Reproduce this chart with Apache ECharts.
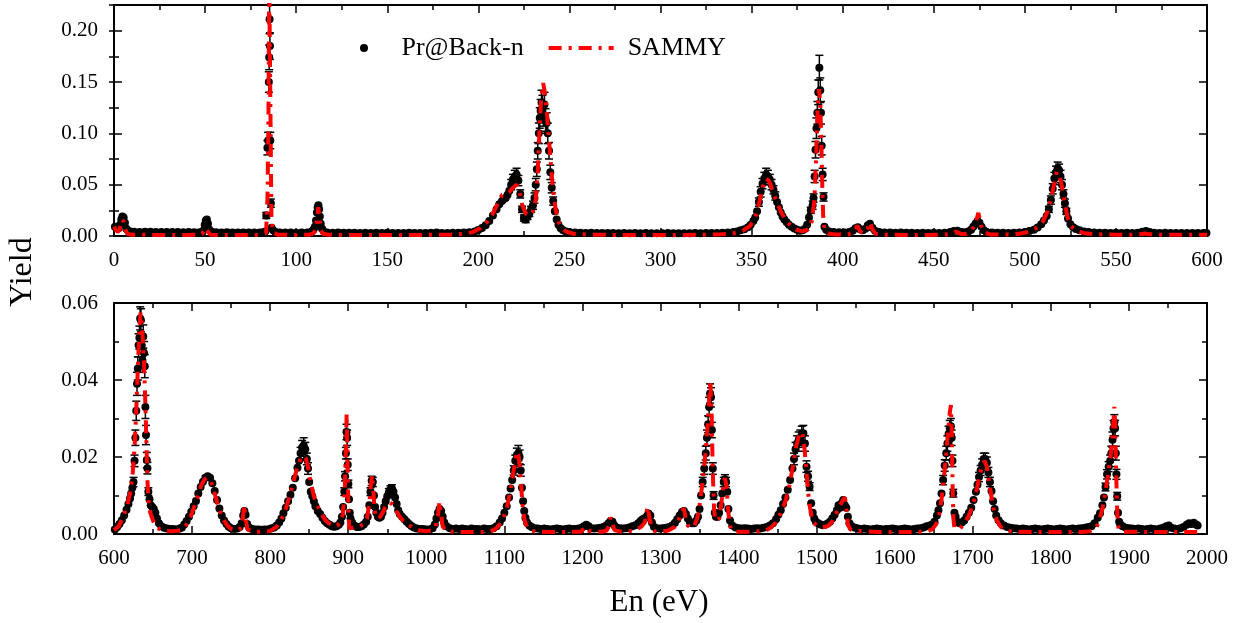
<!DOCTYPE html>
<html>
<head>
<meta charset="utf-8">
<script src="https://cdn.jsdelivr.net/npm/echarts@6/dist/echarts.min.js"></script>
<style>html,body{margin:0;padding:0;background:#fff}#chart{width:1241px;height:623px}</style>
</head>
<body>
<div id="chart"></div>
<script>
// ---- names and labels ----
const expName = 'Pr@Back-n';
const fitName = 'SAMMY';
const xTitle = 'En (eV)';
const yTitle = 'Yield';

// ---- top panel (0-600 eV): experimental points [En, yield, error] ----
const topExp = [
[0.5,0.009],[1.5,0.008],[2.5,0.0075],[3.3,0.011],[4,0.016],[4.6,0.019],[5.3,0.018],[6,0.013],[6.8,0.007],[7.8,0.005],[9,0.0045],
[11,0.0042],[14,0.004],[17,0.0042],[20,0.0041],[23,0.004],[26,0.0039],[29,0.004],[32,0.0038],[35,0.0039],[38,0.0037],[41,0.0038],[44,0.0036],[47,0.0037],
[49,0.005],[49.8,0.011],[50.4,0.015],[51,0.016],[51.6,0.012],[52.4,0.006],[53.5,0.0042],
[56,0.0036],[59,0.0035],[62,0.0036],[65,0.0034],[68,0.0035],[71,0.0034],[74,0.0035],[77,0.0033],[80,0.0034],[82,0.0036],[83,0.0045],
[83.6,0.02,0.003],[84.2,0.086,0.007],[84.6,0.093,0.008],[85,0.15,0.01],[85.2,0.174,0.012],[85.4,0.211,0.014],[85.6,0.185,0.013],[85.8,0.093,0.008],[86.1,0.032,0.004],[86.5,0.008],[87.3,0.0055],[88.5,0.0042],
[91,0.0034],[94,0.0033],[97,0.0034],[100,0.0032],[103,0.0033],[106,0.0034],[108.5,0.0045],[109.5,0.006],[110.3,0.009],[110.9,0.015],[111.4,0.023],[111.8,0.028],[112.2,0.03],[112.6,0.026],[113,0.019],[113.5,0.012],[114.2,0.007],[115.2,0.0045],
[117,0.0034],[120,0.0032],[123,0.0033],[126,0.0031],[129,0.0032],[132,0.0031],[135,0.003],[138,0.0031],[141,0.003],[144,0.0031],[147,0.003],[150,0.0031],[153,0.003],[156,0.0029],[159,0.003],[162,0.0031],[165,0.003],[168,0.0029],[171,0.003],[174,0.0031],[177,0.0033],[180,0.003],[183,0.003],[186,0.0031],[189,0.0032],[192,0.0034],
[195,0.0037],[198,0.0045],[200,0.0058],[202,0.0078],[204,0.0105],[206,0.0145],[208,0.02],[210,0.026],[211.5,0.031],[213,0.034],[214,0.036],[215,0.037],[216,0.04],[217,0.044],[218,0.05,0.005],[219,0.055,0.005],[220,0.058,0.006],[221,0.06,0.006],[222,0.054,0.005],[223,0.041,0.004],[224,0.026,0.003],[225,0.0175,0.003],[226,0.016,0.003],[227,0.019,0.003],[228,0.022,0.003],[229,0.026,0.003],[230,0.03,0.004],[230.8,0.037,0.005],[231.5,0.05,0.006],[232.1,0.065,0.007],[232.6,0.083,0.008],[233.2,0.1,0.01],[233.7,0.115,0.01],[234.2,0.122,0.011],[234.7,0.13,0.012],[235.2,0.125,0.012],[235.7,0.118,0.011],[236.3,0.128,0.012],[236.9,0.113,0.011],[237.5,0.11,0.01],[238.1,0.1,0.01],[238.8,0.083,0.008],[239.5,0.062,0.007],[240.3,0.047,0.005],[241.1,0.034,0.004],[242,0.024],[243,0.016],[244,0.011],[245.2,0.0075],[246.5,0.0055],[248,0.0045],[250,0.004],
[253,0.0034],[256,0.0032],[259,0.003],[262,0.0031],[265,0.003],[268,0.0029],[271,0.003],[274,0.0029],[277,0.0028],[280,0.0029],[283,0.0028],[286,0.0029],[289,0.0028],[292,0.0029],[295,0.0028],[298,0.0027],[301,0.0028],[304,0.0029],[307,0.0028],[310,0.0027],[313,0.0028],[316,0.0028],[319,0.0029],[322,0.0028],[325,0.003],[328,0.0029],[331,0.003],[334,0.0032],[337,0.0034],[340,0.0038],
[342,0.0045],[344,0.0055],[346,0.0065],[348,0.0085],[349.5,0.011],[351,0.0145],[352,0.018],[353,0.024],[354,0.033,0.004],[355,0.043,0.005],[356,0.051,0.005],[357,0.056,0.006],[358,0.06,0.006],[359,0.058,0.006],[360,0.055,0.005],[361,0.05,0.005],[362,0.045,0.004],[363,0.039,0.004],[364,0.033],[365,0.028],[366,0.023],[367,0.019],[368,0.016],[369.3,0.0135],[370.5,0.011],[372,0.009],[373.5,0.0072],[375,0.006],[376.5,0.0052],[378,0.0055],[379.3,0.007],[380.5,0.011],[381.5,0.018],[382.5,0.025,0.003],
[383.5,0.03,0.004],[384,0.037,0.004],[384.6,0.058,0.006],[385.1,0.084,0.008],[385.6,0.105,0.01],[386.1,0.12,0.011],[386.6,0.14,0.012],[387.2,0.164,0.012],[387.7,0.142,0.012],[388.1,0.12,0.011],[388.5,0.088,0.009],[389,0.06,0.006],[389.5,0.038,0.004],[390,0.009],[391,0.006],[392.5,0.0045],
[395,0.0038],[398,0.0036],[401,0.0035],[403.5,0.0038],[405.5,0.005],[407,0.0075],[408.3,0.0085],[409.5,0.0065],[411,0.0055],[412.5,0.007],[413.8,0.0105],[415,0.012],[416.3,0.008],[417.8,0.005],[420,0.004],
[423,0.0034],[426,0.0033],[429,0.0032],[432,0.0033],[435,0.0031],[438,0.0032],[441,0.003],[444,0.0031],[447,0.003],[450,0.0031],[453,0.003],[456,0.0032],[459,0.0038],[461,0.0048],[463,0.005],[465,0.004],[467,0.0036],[469,0.0045],[470.5,0.006],[471.7,0.009],[472.9,0.012],[474,0.0145],[475.1,0.013],[476.2,0.009],[477.5,0.0055],[479,0.0038],
[482,0.0033],[485,0.0031],[488,0.0032],[491,0.003],[494,0.0031],[497,0.0033],[500,0.0038],[502.5,0.0048],[505,0.0062],[507,0.0082],[509,0.0115],[510.5,0.015],[512,0.0195],[513.2,0.026,0.003],[514.3,0.035,0.004],[515.3,0.046,0.005],[516.2,0.056,0.006],[517.1,0.062,0.006],[518,0.066,0.006],[518.8,0.064,0.006],[519.6,0.058,0.006],[520.4,0.05,0.005],[521.2,0.041,0.004],[522,0.032,0.004],[522.8,0.024,0.003],[523.7,0.017],[525,0.0115],[526.5,0.0085],[528,0.0068],[530,0.0055],[532.5,0.0045],[535,0.0038],
[538,0.0034],[541,0.0032],[544,0.0031],[547,0.003],[550,0.0031],[553,0.003],[556,0.0031],[559,0.003],[562,0.0032],[564.5,0.0042],[566.5,0.0048],[568.5,0.0038],[571,0.0031],[574,0.003],[577,0.0031],[580,0.003],[583,0.0029],[586,0.003],[589,0.0029],[592,0.003],[595,0.0029],[598,0.003],[599.7,0.003]
];

// ---- top panel: SAMMY fit [En, yield] ----
const topFit = [
[0,0.009],[1,0.006],[2,0.004],[3,0.006],[3.8,0.012],[4.5,0.016],[5.3,0.014],[6.2,0.006],[7.5,0.002],[10,0.0012],[20,0.0011],[30,0.001],[40,0.001],[46,0.0012],[48.5,0.002],[50,0.008],[51.2,0.005],[53,0.0012],[60,0.0009],[70,0.0009],[80,0.001],[83.5,0.003],[84.3,0.04],[84.8,0.12],[85.2,0.25],[85.6,0.25],[86,0.1],[86.4,0.02],[87.2,0.004],[90,0.0012],[100,0.001],[107,0.0012],[109.5,0.0025],[110.8,0.006],[111.6,0.018],[112.1,0.028],[112.7,0.019],[113.4,0.006],[114.6,0.0022],[118,0.0012],[130,0.001],[150,0.001],[170,0.0011],[185,0.0013],[192,0.002],[197,0.0038],[201,0.0075],[205,0.014],[208,0.022],[211,0.033],[213,0.04],[215,0.041],[217,0.043],[219,0.047],[221,0.05],[222.5,0.045],[224,0.031],[226,0.022],[228,0.0195],[230,0.024],[231.5,0.035],[232.5,0.058],[233.5,0.1],[234.5,0.135],[235.6,0.149],[236.5,0.14],[237.5,0.123],[238.5,0.1],[239.5,0.077],[240.5,0.055],[241.5,0.038],[242.5,0.025],[244,0.014],[245.5,0.0085],[248,0.0045],[252,0.0022],[260,0.0013],[280,0.001],[300,0.001],[320,0.0011],[333,0.0016],[340,0.0025],[345,0.005],[349,0.0095],[352,0.018],[354,0.031],[356,0.047],[357.8,0.056],[359.5,0.054],[361,0.047],[363,0.037],[366,0.024],[369,0.015],[372,0.009],[375,0.0058],[378,0.0045],[381,0.0065],[383,0.014],[384.5,0.035],[385.5,0.08],[386.3,0.125],[387,0.143],[387.7,0.13],[388.3,0.09],[388.8,0.05],[389.3,0.02],[390,0.006],[392,0.0025],[396,0.0015],[403,0.0015],[406.3,0.004],[408,0.01],[409.7,0.004],[412,0.0025],[413.8,0.0075],[415,0.0135],[416.2,0.007],[418,0.0022],[422,0.0013],[440,0.001],[455,0.0012],[459,0.002],[462,0.0042],[465,0.002],[468,0.0022],[470.5,0.005],[472.7,0.011],[474.5,0.0225],[476,0.01],[477.5,0.0035],[481,0.0015],[492,0.0014],[498,0.0025],[503,0.0045],[507,0.0085],[510,0.0145],[512.5,0.024],[514.5,0.037],[516,0.05],[517.5,0.0625],[519,0.059],[520.5,0.047],[522,0.031],[523.5,0.018],[525.5,0.0095],[528,0.0055],[532,0.003],[538,0.0018],[550,0.0012],[560,0.0013],[564,0.002],[566,0.0025],[568,0.0018],[575,0.0012],[590,0.0011],[600,0.0011]
];

// ---- bottom panel (600-2000 eV): experimental points [En, yield, error] ----
const bottomExp = [
[601,0.0012],[604,0.0018],[607,0.0026],[610,0.0036],[613,0.0048],[616,0.0063],[618.5,0.0078],[620.5,0.0092],[622,0.0105],[623.5,0.012],[625,0.0135,0.0012],[626.3,0.019,0.0015],[627.4,0.025,0.002],[628.5,0.032,0.0025],[629.5,0.039,0.003],[630.5,0.043,0.003],[631.5,0.049,0.003],[632.5,0.051,0.003],[633.5,0.056,0.003],[634.5,0.0555,0.003],[635.5,0.049,0.003],[636.5,0.045,0.003],[637.5,0.0513,0.003],[638.5,0.047,0.003],[639.4,0.0436,0.003],[640.2,0.033,0.003],[641,0.0257,0.0025],[642,0.0192,0.002],[642.8,0.0171,0.0015],[644,0.011,0.001],[645.5,0.009],[647,0.0075],[649,0.007],[651,0.0065],[653,0.0055],[655,0.004],[657.5,0.0028],[660.5,0.002],
[664,0.0016],[668,0.0014],[672,0.0013],[676,0.0013],[680,0.0012],[684,0.0014],[687,0.0017],[690,0.0025],[693,0.0034],[696,0.0045],[699,0.0058],[702,0.0072],[705,0.0086],[708,0.0105],[711,0.0122],[714,0.0136],[717,0.0146],[720,0.015],[723,0.0146],[726,0.0132],[729,0.0112],[732,0.0088],[735,0.0066],[738,0.0048],[741,0.0035],[744,0.0026],[747,0.0019],[750,0.0015],[754,0.0013],[758,0.0014],[761,0.0018],[763.5,0.0028],[765.5,0.0048],[767,0.006],[768.5,0.005],[770.5,0.0026],[773.5,0.0016],
[777,0.0013],[781,0.0012],[785,0.0012],[789,0.0011],[793,0.0012],[797,0.0012],[801,0.0014],[805,0.0017],[808.5,0.0022],[811.5,0.003],[814.5,0.004],[817,0.0054],[820,0.0068],[823,0.0085],[826,0.0102],[829,0.012],[832,0.0145],[835,0.0172],[837,0.019],[839,0.021,0.0015],[841,0.0225,0.0018],[843,0.023,0.002],[845,0.022,0.0018],[847,0.0195,0.0015],[848.5,0.017,0.0015],[850,0.0135],[852,0.011],[854,0.0098],[856,0.0085],[858,0.0072],[861,0.006],[864,0.0052],[867,0.0042],[870,0.0034],[873,0.0028],[876,0.0024],[879,0.002],[882,0.0019],[885,0.002],[888,0.0024],[890,0.003],[892,0.0045],[893.5,0.007],[895,0.011,0.001],[896,0.015,0.0012],[897,0.021,0.0015],[897.8,0.0265,0.002],[898.6,0.025,0.002],[899.4,0.018,0.0015],[900.2,0.013,0.001],[901,0.009],[902,0.0055],[903,0.004],[905,0.003],[908,0.0022],[911,0.0018],[914,0.0018],[917,0.002],[920,0.0025],[923,0.0032],[925,0.0045],[927,0.0075],[928.5,0.011,0.001],[930,0.0138,0.0012],[931.5,0.0135,0.0012],[933,0.01],[934.5,0.007],[936,0.0055],[938,0.0045],[940,0.0042],[942,0.0045],[944,0.0055],[946,0.007],[948,0.0085],[950,0.0098],[952,0.0108,0.001],[954,0.0115,0.001],[956,0.0118,0.001],[958,0.011],[960,0.0095],[962,0.0078],[964,0.0062],[966,0.0052],[969,0.0045],[972,0.0038],[975,0.0032],[978,0.0026],[981,0.0021],[984,0.0017],[988,0.0014],[992,0.0013],[996,0.0013],
[1000,0.0012],[1004,0.0012],[1008,0.0015],[1011,0.0025],[1013,0.004],[1015,0.0055],[1017,0.0065],[1019,0.006],[1021,0.0045],[1023,0.003],[1026,0.002],[1030,0.0015],[1034,0.0013],[1038,0.0014],[1042,0.0013],[1046,0.0014],[1050,0.0013],[1054,0.0012],[1058,0.0014],[1062,0.0013],[1066,0.0013],[1070,0.0012],[1074,0.0014],[1078,0.0013],[1082,0.0013],[1086,0.0015],[1090,0.002],[1094,0.003],[1097,0.004],[1100,0.0055],[1103,0.0072],[1106,0.0095],[1108,0.0118],[1110,0.014],[1112,0.0165,0.0012],[1114,0.019,0.0015],[1116,0.0205,0.0018],[1118,0.021,0.002],[1119.5,0.02,0.0018],[1121,0.0165,0.0015],[1122.5,0.012],[1124,0.0085],[1125.5,0.006],[1127,0.0042],[1129,0.003],[1132,0.0022],[1135,0.0018],[1139,0.0015],
[1143,0.0014],[1147,0.0013],[1151,0.0014],[1155,0.0013],[1159,0.0012],[1163,0.0013],[1167,0.0014],[1171,0.0013],[1175,0.0012],[1179,0.0013],[1183,0.0014],[1187,0.0013],[1191,0.0013],[1195,0.0014],[1199,0.0016],[1202,0.002],[1205,0.0024],[1208,0.002],[1211,0.0015],[1215,0.0014],[1219,0.0015],[1223,0.0016],[1227,0.0018],[1230.5,0.0022],[1233.5,0.0028],[1236,0.0034],[1238.5,0.0032],[1241,0.0022],[1244,0.0016],[1248,0.0015],[1252,0.0014],[1256,0.0015],[1260,0.0017],[1264,0.002],[1268,0.0023],[1271.5,0.0028],[1274.5,0.0034],[1277,0.0038],[1279.5,0.004],[1282,0.0045],[1284.5,0.0053],[1287,0.0048],[1289,0.003],[1291.5,0.0019],[1295,0.0015],[1299,0.0014],
[1303,0.0015],[1307,0.0016],[1311,0.0018],[1315,0.0022],[1318.5,0.0029],[1321.5,0.0038],[1324.5,0.0048],[1327.5,0.0057],[1330,0.006],[1332.5,0.0052],[1335,0.004],[1337.5,0.0032],[1340,0.0028],[1343,0.0028],[1346,0.0035],[1348,0.0045],[1350,0.0065],[1352,0.01],[1354,0.0135,0.0012],[1356,0.017,0.0015],[1358,0.021,0.0018],[1359.5,0.025,0.002],[1361,0.0285,0.0022],[1362.3,0.033,0.0025],[1363.5,0.0365,0.0025],[1364.7,0.0355,0.0025],[1365.8,0.027,0.002],[1367,0.017,0.0015],[1368,0.01,0.001],[1369.5,0.0055],[1371,0.0045],[1373,0.0045],[1375,0.0055],[1377,0.0075],[1379,0.0105],[1381,0.0135,0.0012],[1382.5,0.0142,0.0012],[1384,0.0135,0.0012],[1385.5,0.011],[1387,0.0065],[1389,0.0035],[1392,0.0022],[1396,0.0017],
[1400,0.0015],[1404,0.0014],[1408,0.0015],[1412,0.0014],[1416,0.0013],[1420,0.0014],[1424,0.0015],[1428,0.0014],[1432,0.0016],[1436,0.0018],[1440,0.0022],[1444,0.0028],[1448,0.0038],[1451,0.005],[1454,0.0062],[1457,0.0078],[1460,0.0095],[1463,0.0115],[1466,0.014],[1469,0.017],[1471,0.0195,0.0015],[1473,0.022,0.0018],[1475,0.0235,0.002],[1477,0.0245,0.002],[1479,0.025,0.002],[1481,0.026,0.002],[1483,0.0262,0.002],[1485,0.0235,0.002],[1487,0.0175,0.0015],[1489,0.015,0.0013],[1491,0.0123,0.001],[1493,0.008],[1495,0.0055],[1497,0.004],[1499,0.0032],[1502,0.0028],[1505,0.0025],[1508,0.0023],[1511,0.0024],[1514,0.0027],[1517,0.0032],[1520,0.004],[1523,0.005],[1526,0.0062],[1528,0.0075],[1530,0.0068],[1532,0.008],[1534,0.0088],[1536,0.0075],[1538,0.0068],[1540,0.0045],[1542,0.0028],[1545,0.002],[1549,0.0016],
[1553,0.0014],[1557,0.0013],[1561,0.0014],[1565,0.0013],[1569,0.0012],[1573,0.0013],[1577,0.0014],[1581,0.0013],[1585,0.0012],[1589,0.0013],[1593,0.0013],[1597,0.0014],[1601,0.0013],[1605,0.0012],[1609,0.0013],[1613,0.0014],[1617,0.0013],[1621,0.0012],[1625,0.0013],[1629,0.0014],[1633,0.0015],[1637,0.0017],[1641,0.002],[1645,0.0022],[1648,0.0025],[1651,0.0032],[1654,0.0048],[1656,0.0062],[1658,0.008],[1660,0.0105],[1662,0.014,0.0012],[1664,0.0178,0.0015],[1666,0.021,0.0018],[1667.5,0.0235,0.002],[1669,0.026,0.002],[1670.5,0.0275,0.002],[1672,0.028,0.002],[1673,0.025,0.002],[1674,0.019,0.0015],[1675,0.0106,0.001],[1676.5,0.0055],[1678,0.0045],[1680,0.0032],[1683,0.0028],[1686,0.003],[1689,0.0035],[1692,0.0045],[1695,0.0055],[1698,0.0068],[1701,0.0088],[1704,0.011],[1706,0.0128],[1708,0.0148,0.0012],[1710,0.0165,0.0013],[1712,0.018,0.0015],[1714,0.0195,0.0015],[1716,0.0195,0.0015],[1718,0.0185,0.0015],[1720,0.016,0.0013],[1722,0.0135,0.0012],[1724,0.0112],[1726,0.0085],[1728,0.0065],[1730,0.0048],[1733,0.0036],[1736,0.0028],[1740,0.0022],[1744,0.0018],[1748,0.0016],
[1752,0.0015],[1756,0.0014],[1760,0.0013],[1764,0.0014],[1768,0.0013],[1772,0.0012],[1776,0.0013],[1780,0.0014],[1784,0.0013],[1788,0.0012],[1792,0.0013],[1796,0.0014],[1800,0.0013],[1804,0.0012],[1808,0.0013],[1812,0.0014],[1816,0.0013],[1820,0.0012],[1824,0.0013],[1828,0.0014],[1832,0.0013],[1836,0.0014],[1840,0.0015],[1844,0.0016],[1848,0.0018],[1852,0.002],[1856,0.0028],[1860,0.0042],[1863,0.0054],[1866,0.0075],[1868,0.0095],[1870,0.0122,0.001],[1872,0.0155,0.0012],[1874,0.0175,0.0013],[1876,0.019,0.0015],[1877.5,0.021,0.0018],[1879,0.0245,0.002],[1880.3,0.0275,0.002],[1881.3,0.029,0.002],[1882.3,0.0275,0.002],[1883.2,0.021,0.0018],[1884,0.0155,0.0013],[1885,0.0098,0.001],[1886,0.0055],[1887.5,0.0032],[1889,0.0025],[1892,0.002],[1896,0.0016],
[1900,0.0015],[1904,0.0014],[1908,0.0013],[1912,0.0014],[1916,0.0013],[1920,0.0012],[1924,0.0013],[1928,0.0014],[1932,0.0013],[1936,0.0012],[1940,0.0014],[1944,0.0016],[1948,0.002],[1951,0.0022],[1954,0.0016],[1958,0.0014],[1962,0.0013],[1966,0.0015],[1970,0.0018],[1974,0.0024],[1977,0.0028],[1980,0.0026],[1983,0.0029],[1986,0.0025],[1988,0.0022]
];

// ---- bottom panel: SAMMY fit [En, yield] ----
const bottomFit = [
[600,0.001],[606,0.002],[612,0.0045],[617,0.0075],[621,0.011],[624,0.016],[626.5,0.023],[628.5,0.032],[630.5,0.043],[632.5,0.053],[634,0.0575],[635.5,0.055],[637,0.05],[638.5,0.044],[640,0.035],[641.5,0.024],[643,0.013],[644.5,0.008],[646.5,0.0055],[649,0.004],[652,0.0025],[656,0.0015],[662,0.0009],[675,0.0007],[685,0.0009],[692,0.0022],[698,0.0045],[703,0.0072],[708,0.0102],[712,0.0128],[716,0.0142],[720,0.0146],[724,0.0138],[728,0.0112],[732,0.0083],[736,0.0058],[740,0.0038],[745,0.0022],[750,0.0013],[756,0.0009],[761,0.0012],[764.5,0.003],[766.8,0.0075],[768.5,0.004],[771,0.0012],[778,0.0006],[790,0.0006],[800,0.0008],[808,0.0018],[814,0.0035],[820,0.0065],[826,0.0105],[831,0.0145],[835,0.0175],[839,0.0195],[842.5,0.0203],[846,0.0195],[849,0.017],[851,0.0145],[853,0.0125],[856,0.0098],[860,0.0075],[865,0.0055],[870,0.0038],[875,0.0028],[880,0.0021],[886,0.0022],[890,0.003],[893,0.005],[895.5,0.011],[897,0.022],[898,0.0313],[899,0.02],[900,0.009],[901.3,0.0015],[903,0.0012],[906,0.0016],[910,0.0018],[915,0.002],[920,0.0026],[924,0.004],[927,0.008],[929,0.0125],[930.5,0.0153],[932,0.012],[933.5,0.007],[935,0.0045],[938,0.004],[941,0.0045],[944,0.0055],[947,0.0068],[950,0.0078],[953,0.0082],[956,0.0078],[959,0.007],[962,0.0058],[966,0.0045],[970,0.0035],[975,0.0026],[980,0.002],[985,0.0014],[992,0.0009],[1000,0.0007],[1008,0.001],[1012,0.002],[1015,0.005],[1017,0.0084],[1019,0.005],[1021,0.002],[1025,0.0008],[1040,0.0005],[1060,0.0005],[1080,0.0006],[1088,0.0012],[1093,0.0022],[1098,0.0038],[1103,0.0065],[1107,0.0105],[1110,0.014],[1113,0.018],[1116,0.0214],[1118,0.0205],[1120,0.017],[1122,0.011],[1124,0.006],[1126,0.0035],[1129,0.0018],[1133,0.001],[1140,0.0006],[1170,0.0005],[1198,0.0006],[1204,0.0018],[1208,0.0008],[1225,0.0006],[1231,0.0009],[1234,0.002],[1236,0.0043],[1238,0.003],[1241,0.001],[1250,0.0006],[1265,0.0008],[1275,0.0018],[1280,0.003],[1283.5,0.0071],[1286,0.004],[1289,0.0015],[1293,0.0007],[1300,0.0006],[1310,0.0009],[1318,0.0018],[1323,0.0035],[1327,0.0055],[1329.6,0.0067],[1332,0.0045],[1335,0.0022],[1339,0.0015],[1343,0.002],[1347,0.004],[1350,0.0075],[1353,0.012],[1356,0.0175],[1359,0.024],[1361.5,0.032],[1363.8,0.04],[1365.5,0.031],[1367,0.016],[1368.5,0.007],[1370,0.0035],[1372,0.003],[1375,0.004],[1378,0.008],[1380.5,0.0125],[1382.5,0.0145],[1384.5,0.0125],[1386.5,0.0065],[1388.5,0.0025],[1391,0.001],[1396,0.0006],[1420,0.0006],[1435,0.0009],[1442,0.0018],[1448,0.003],[1455,0.0058],[1460,0.0085],[1465,0.0125],[1470,0.018],[1474,0.023],[1478,0.026],[1481,0.0265],[1483,0.025],[1485,0.021],[1487,0.016],[1489,0.011],[1491,0.0075],[1493.5,0.0045],[1496,0.003],[1500,0.0022],[1505,0.0018],[1510,0.0018],[1515,0.0022],[1520,0.0032],[1524,0.0048],[1528,0.0068],[1532,0.0082],[1536,0.0095],[1538,0.007],[1540,0.0025],[1543,0.0012],[1550,0.0008],[1580,0.0005],[1620,0.0005],[1640,0.0006],[1648,0.0012],[1653,0.0025],[1657,0.005],[1660,0.009],[1663,0.0145],[1666,0.021],[1668.5,0.027],[1670.5,0.0315],[1672,0.0335],[1673.2,0.025],[1674.2,0.012],[1675.2,0.004],[1676.5,0.0015],[1679,0.0012],[1684,0.0015],[1690,0.003],[1695,0.0048],[1700,0.0075],[1704,0.0105],[1708,0.0145],[1712,0.0178],[1715,0.019],[1718,0.0175],[1721,0.0135],[1724,0.0095],[1727,0.006],[1731,0.0035],[1736,0.0018],[1742,0.001],[1750,0.0006],[1800,0.0005],[1840,0.0005],[1850,0.0007],[1858,0.0015],[1862,0.0035],[1866,0.0065],[1870,0.011],[1874,0.0165],[1877,0.021],[1879.5,0.027],[1881.3,0.033],[1882.5,0.028],[1883.5,0.018],[1884.5,0.009],[1885.5,0.0035],[1887,0.0012],[1892,0.0006],[1940,0.0005],[1988,0.0005]
];

// ---- axis ranges ----
const topX = {min: 0, max: 600, interval: 50};
const topY = {min: 0, max: 0.225, interval: 0.05, minor: 0.025};
const botX = {min: 600, max: 2000, interval: 100};
const botY = {min: 0, max: 0.06, interval: 0.02};

const FONT = "'Liberation Serif','Times New Roman',serif";
const BLACK = '#000';
const RED = '#ff0000';

function xAxis(grid, r, pos, labels) {
  return {
    type: 'value', gridIndex: grid, min: r.min, max: r.max, interval: r.interval, position: pos,
    axisLine: {onZero: false, lineStyle: {color: BLACK, width: 2}},
    axisTick: {inside: true, length: 8, lineStyle: {color: BLACK, width: 1.5}},
    minorTick: {show: true, splitNumber: 2, length: 5, lineStyle: {color: BLACK, width: 1.5}},
    axisLabel: {show: labels, color: BLACK, fontFamily: FONT, fontSize: 21, margin: 14,
      formatter: v => String(v)},
    splitLine: {show: false}, minorSplitLine: {show: false}
  };
}
function yAxis(grid, min, max, interval, pos, labels, showMax, opts) {
  const o = {
    type: 'value', gridIndex: grid, min: min, max: max, interval: interval, position: pos,
    axisLine: {onZero: false, lineStyle: {color: BLACK, width: 2}},
    axisTick: {inside: true, length: 8, lineStyle: {color: BLACK, width: 1.5}},
    minorTick: {show: false},
    axisLabel: {show: labels, color: BLACK, fontFamily: FONT, fontSize: 21, margin: 16,
      showMaxLabel: showMax, formatter: v => v.toFixed(2)},
    splitLine: {show: false}, minorSplitLine: {show: false}
  };
  return Object.assign(o, opts || {});
}

const minorOnly = (len) => ({
  axisLine: {show: false},
  axisTick: {inside: true, length: len, lineStyle: {color: BLACK, width: 1.5}},
  axisLabel: {show: false}
});
const withMinor = {minorTick: {show: true, splitNumber: 2, length: 5, lineStyle: {color: BLACK, width: 1.5}}};

const chart = echarts.init(document.getElementById('chart'), null, {renderer: 'canvas'});

function errRender(params, api) {
  const e = api.value(2);
  if (!(e > 0)) return null;
  const x = api.value(0), y = api.value(1);
  const hi = api.coord([x, y + e]), lo = api.coord([x, y - e]);
  const w = 4;
  const st = {stroke: BLACK, lineWidth: 1.5};
  return {
    type: 'group',
    children: [
      {type: 'line', shape: {x1: hi[0], y1: hi[1], x2: lo[0], y2: lo[1]}, style: st},
      {type: 'line', shape: {x1: hi[0] - w, y1: hi[1], x2: hi[0] + w, y2: hi[1]}, style: st},
      {type: 'line', shape: {x1: lo[0] - w, y1: lo[1], x2: lo[0] + w, y2: lo[1]}, style: st}
    ]
  };
}

const fitLine = {type: [13, 7, 3, 7], width: 4, color: RED, cap: 'butt', opacity: 1};
const expStyle = {color: BLACK, opacity: 1};

chart.setOption({
  animation: false,
  backgroundColor: '#fff',
  grid: [
    {left: 114, top: 5, width: 1093, height: 231},
    {left: 114, top: 303, width: 1093, height: 231}
  ],
  xAxis: [
    xAxis(0, topX, 'bottom', true),
    xAxis(0, topX, 'top', false),
    xAxis(1, botX, 'bottom', true),
    xAxis(1, botX, 'top', false)
  ],
  yAxis: [
    yAxis(0, topY.min, topY.max, topY.interval, 'left', true, false),
    yAxis(0, topY.min, topY.max, topY.interval, 'right', false, false),
    yAxis(0, topY.min, topY.max, topY.minor, 'left', false, false, minorOnly(5)),
    yAxis(0, topY.min, topY.max, topY.minor, 'right', false, false, minorOnly(5)),
    yAxis(1, botY.min, botY.max, botY.interval, 'left', true, true, withMinor),
    yAxis(1, botY.min, botY.max, botY.interval, 'right', false, true, withMinor)
  ],
  legend: {
    left: 355, top: 30, itemWidth: 65, itemHeight: 8, itemGap: 23,
    textStyle: {fontFamily: FONT, fontSize: 26, color: BLACK, rich: {gap: {width: 9}}},
    formatter: name => (name === fitName ? '{gap|}' + name : name),
    lineStyle: {width: 4},
    data: [
      {name: expName, icon: 'circle', itemStyle: {color: BLACK, opacity: 1}},
      {name: fitName, itemStyle: {opacity: 0}}
    ]
  },
  graphic: [
    {type: 'text', x: 23, y: 272, rotation: Math.PI / 2,
      style: {text: yTitle, font: '32px ' + FONT, fill: BLACK, align: 'center', verticalAlign: 'middle'}},
    {type: 'text', x: 659, y: 603,
      style: {text: xTitle, font: '31px ' + FONT, fill: BLACK, align: 'center', verticalAlign: 'middle'}}
  ],
  series: [
    {name: 'err-top', type: 'custom', xAxisIndex: 0, yAxisIndex: 0, renderItem: errRender, clip: true, z: 2,
      encode: {x: 0, y: 1}, data: topExp.filter(d => d.length > 2)},
    {name: 'err-bottom', type: 'custom', xAxisIndex: 2, yAxisIndex: 4, renderItem: errRender, clip: true, z: 2,
      encode: {x: 0, y: 1}, data: bottomExp.filter(d => d.length > 2)},
    {name: expName, type: 'scatter', xAxisIndex: 0, yAxisIndex: 0, symbol: 'circle', symbolSize: 8,
      itemStyle: expStyle, z: 3, data: topExp.map(d => [d[0], d[1]])},
    {name: expName, type: 'scatter', xAxisIndex: 2, yAxisIndex: 4, symbol: 'circle', symbolSize: 8,
      itemStyle: expStyle, z: 3, data: bottomExp.map(d => [d[0], d[1]])},
    {name: fitName, type: 'line', xAxisIndex: 0, yAxisIndex: 0, symbol: 'none', showSymbol: false, clip: true,
      lineStyle: fitLine, itemStyle: {color: RED}, z: 4, data: topFit},
    {name: fitName, type: 'line', xAxisIndex: 2, yAxisIndex: 4, symbol: 'none', showSymbol: false, clip: true,
      lineStyle: fitLine, itemStyle: {color: RED}, z: 4, data: bottomFit}
  ]
});
</script>
</body>
</html>
